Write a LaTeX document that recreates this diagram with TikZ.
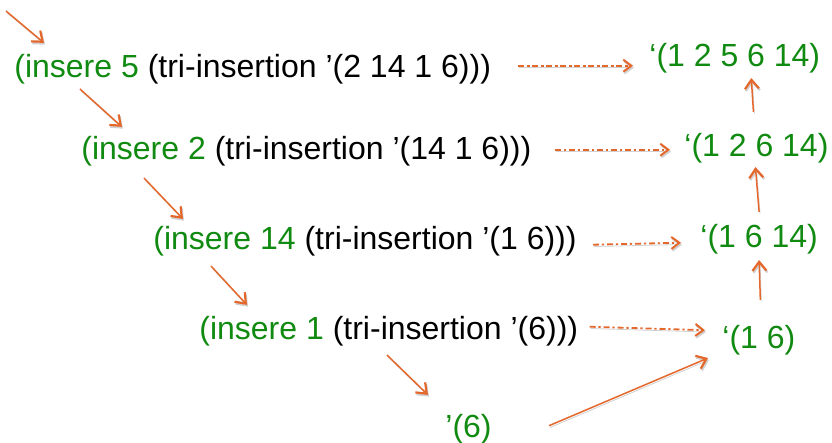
\documentclass[tikz,border=0pt]{standalone}
\usepackage{fontspec}
\setmainfont{Liberation Sans}
\usetikzlibrary{arrows.meta}

\definecolor{lispgreen}{RGB}{16,138,16}
\definecolor{traceorange}{RGB}{228,104,44}
\newcommand{\ins}[1]{\textcolor{lispgreen}{#1}}

\tikzset{
  expr/.style={anchor=base west, inner sep=0pt, font=\fontsize{16}{19}\selectfont},
  shadowed/.style={preaction={draw=black!18, transform canvas={shift={(0.5pt,-0.9pt)}}}},
  trace/.style={traceorange, line width=0.75pt, shadowed,
    -{Straight Barb[length=4.5pt,width=7pt,line width=1.1pt]}},
  evaluate/.style={trace, line width=0.9pt,
    dash pattern=on 3pt off 1.4pt on 1.2pt off 1.4pt,
    -{Straight Barb[length=4pt,width=6pt,line width=1pt]}},
}

\begin{document}
\begin{tikzpicture}[x=0.5pt, y=-0.5pt]
  \useasboundingbox (0,0) rectangle (832,443);
  \clip (0,0) rectangle (832,443);

  % recursive calls
  \node[expr] (r1) at (14,78)  {\ins{(insere 5} (tri-insertion ’(2 14 1 6)))};
  \node[expr] (r2) at (81,160) {\ins{(insere 2} (tri-insertion ’(14 1 6)))};
  \node[expr] (r3) at (153,250) {\ins{(insere 14} (tri-insertion ’(1 6)))};
  \node[expr] (r4) at (199,340) {\ins{(insere 1} (tri-insertion ’(6)))};
  \node[expr, lispgreen] (base) at (445,438) {’(6)};

  % results
  \node[expr, lispgreen] (l1) at (649,67)  {‘(1 2 5 6 14)};
  \node[expr, lispgreen] (l2) at (684,157) {‘(1 2 6 14)};
  \node[expr, lispgreen] (l3) at (700,248) {‘(1 6 14)};
  \node[expr, lispgreen] (l4) at (722,349) {‘(1 6)};

  % going down
  \coordinate (start) at (6,11);
  \draw[trace] (start) -- ([shift={(30,-11.5)}]r1.north west);
  \draw[trace] ([shift={(66,4)}]r1.south west) -- ([shift={(41,-9.5)}]r2.north west);
  \draw[trace] ([shift={(63,11)}]r2.south west) -- ([shift={(30,-7.5)}]r3.north west);
  \draw[trace] ([shift={(58,9)}]r3.south west) -- ([shift={(48,-11.5)}]r4.north west);
  \draw[trace] ([shift={(188,8)}]r4.south west) -- ([shift={(-17,-19.5)}]base.north west);

  % each call gives
  \draw[evaluate] ([shift={(27,-4)}]r1.east) -- ([shift={(-16,7)}]l1.west);
  \draw[evaluate] ([shift={(23,-2)}]r2.east) -- ([shift={(-14,1)}]l2.west);
  \draw[evaluate] ([shift={(16,3)}]r3.east) -- ([shift={(-19,3)}]l3.west);
  \draw[evaluate] ([shift={(11,-5)}]r4.east) -- ([shift={(-17,-10.5)}]l4.west);

  % going back up
  \draw[trace] ([shift={(57,-4)}]base.east) -- ([shift={(-14,2)}]l4.south west);
  \draw[trace] ([shift={(1.5,-25.5)}]l4.north) -- ([shift={(0,5)}]l3.south);
  \draw[trace] ([shift={(0,-12.5)}]l3.north) -- ([shift={(-1,3)}]l2.south);
  \draw[trace] ([shift={(-3,-21.5)}]l2.north) -- ([shift={(16.5,4)}]l1.south);
\end{tikzpicture}
\end{document}
